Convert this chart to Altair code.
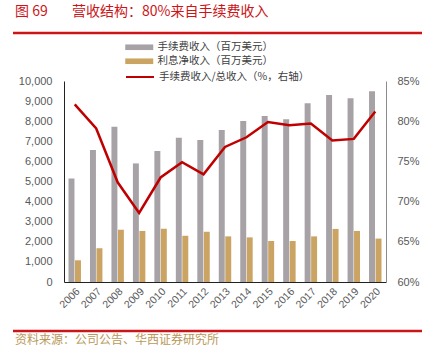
import altair as alt
import pandas as pd

years = [str(y) for y in range(2006, 2021)]
fee = [5150, 6570, 7730, 5900, 6520, 7180, 7070, 7560, 8010, 8260, 8100, 8890, 9300, 9140, 9490]
interest = [1080, 1680, 2600, 2540, 2650, 2300, 2500, 2270, 2220, 2040, 2040, 2270, 2640, 2540, 2160]
ratio = [82.1, 79.1, 72.4, 68.6, 73.0, 74.9, 73.4, 76.8, 78.0, 79.9, 79.5, 79.7, 77.6, 77.8, 81.2]

s_fee = "手续费收入（百万美元）"
s_int = "利息净收入（百万美元）"
s_ratio = "手续费收入/总收入（%，右轴）"
title_num = "图 69"
title_text = "营收结构：80%来自手续费收入"
source_text = "资料来源：公司公告、华西证券研究所"

CJK = "Noto Sans CJK SC"
LAT = "Liberation Sans"
RED = "#cc1518"

bars_df = pd.DataFrame({
    "year": years * 2,
    "series": [s_fee] * len(years) + [s_int] * len(years),
    "value": fee + interest,
})
line_df = pd.DataFrame({"year": years, "ratio": ratio, "lab": [s_ratio] * len(years)})

xscale = alt.Scale(domain=years, paddingInner=0.42, paddingOuter=0.21)
xaxis = alt.Axis(title=None, labelAngle=-45, labelFontSize=10.5, labelColor="#595959",
                 labelFont=LAT, domainColor="#222222", ticks=False, labelPadding=4)

bars = alt.Chart(bars_df).mark_bar().encode(
    x=alt.X("year:N", scale=xscale, axis=xaxis),
    xOffset=alt.XOffset("series:N", sort=[s_fee, s_int], scale=alt.Scale(paddingInner=0.08)),
    y=alt.Y("value:Q", scale=alt.Scale(domain=[0, 10000]),
            axis=alt.Axis(title=None, values=list(range(0, 10001, 1000)), format=",.0f",
                          labelFontSize=11, labelColor="#595959", labelFont=LAT,
                          domainColor="#222222", ticks=False, labelPadding=12, grid=False)),
    color=alt.Color("series:N", sort=[s_fee, s_int],
                    scale=alt.Scale(domain=[s_fee, s_int], range=["#a7a2a6", "#cba464"]),
                    legend=alt.Legend(title=None, orient="none", legendX=70, legendY=-39,
                                      symbolType="M-2.8,-0.56L2.8,-0.56L2.8,0.56L-2.8,0.56Z",
                                      symbolSize=100, symbolStrokeWidth=0, labelOffset=13,
                                      labelFont=CJK, labelFontSize=10.5, labelColor="#404040",
                                      rowPadding=3, padding=0, labelLimit=400)),
)

line = alt.Chart(line_df).mark_line(strokeWidth=2.5).encode(
    x=alt.X("year:N", scale=xscale, axis=xaxis),
    y=alt.Y("ratio:Q", scale=alt.Scale(domain=[60, 85]),
            axis=alt.Axis(title=None, orient="right", values=[60, 65, 70, 75, 80, 85],
                          labelExpr="datum.value + '%'", labelFontSize=11, labelColor="#595959",
                          labelFont=LAT, domainColor="#8c8c8c", ticks=False, labelPadding=11,
                          grid=False)),
    stroke=alt.Stroke("lab:N", scale=alt.Scale(domain=[s_ratio], range=["#c00000"]),
                      legend=alt.Legend(title=None, orient="none", legendX=70, legendY=-10,
                                        symbolType="M-2.8,0L2.8,0", symbolSize=100,
                                        symbolStrokeWidth=2, symbolFillColor="transparent",
                                        labelOffset=13, labelFont=CJK, labelFontSize=10.5,
                                        labelColor="#404040", padding=0, labelLimit=400)),
)

title1 = alt.Chart(pd.DataFrame({"t": [title_num]})).mark_text(
    align="left", baseline="middle", fontSize=14, font=CJK, color=RED
).encode(text="t:N", x=alt.value(-49), y=alt.value(-69))
title2 = alt.Chart(pd.DataFrame({"t": [title_text]})).mark_text(
    align="left", baseline="middle", fontSize=14, font=CJK, color=RED
).encode(text="t:N", x=alt.value(8), y=alt.value(-69))

source = alt.Chart(pd.DataFrame({"t": [source_text]})).mark_text(
    align="left", baseline="middle", fontSize=12, font=CJK, color="#b8995c"
).encode(text="t:N", x=alt.value(-49), y=alt.value(259))

rule_top = alt.Chart(pd.DataFrame({"k": ["top"]})).mark_rule(color=RED, strokeWidth=2.3).encode(
    x=alt.value(-51), x2=alt.value(358), y=alt.value(-48))
rule_bot = alt.Chart(pd.DataFrame({"k": ["bottom"]})).mark_rule(color=RED, strokeWidth=2.3).encode(
    x=alt.value(-51), x2=alt.value(358), y=alt.value(250))

chart = alt.layer(bars, line, title1, title2, source, rule_top, rule_bot).resolve_scale(
    y="independent"
).properties(
    width=322, height=201,
    autosize=alt.AutoSizeParams(type="none"),
    padding={"left": 64, "top": 81, "right": 43, "bottom": 69},
).configure_view(stroke=None)

chart.save("out.html", embed_options={"renderer": "svg", "actions": False})
